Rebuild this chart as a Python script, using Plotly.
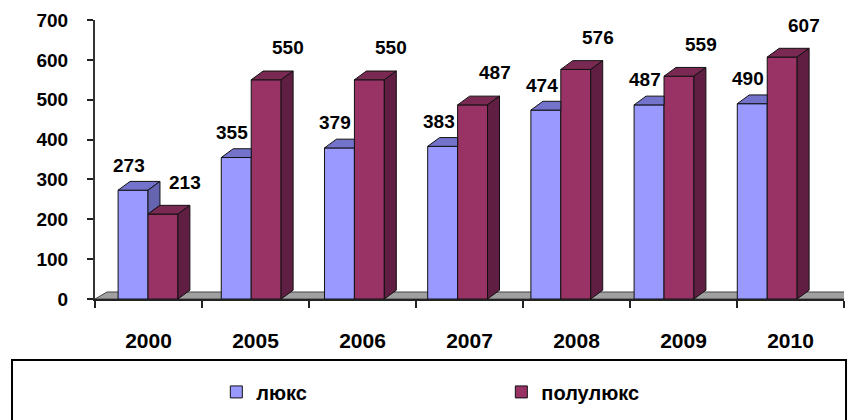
import plotly.graph_objects as go

years = ["2000", "2005", "2006", "2007", "2008", "2009", "2010"]
lux = [273, 355, 379, 383, 474, 487, 490]
semi = [213, 550, 550, 487, 576, 559, 607]
series_names = ["люкс", "полулюкс"]

# styling
C_LUX = "#9999FF"; C_LUX_TOP = "#7373CC"; C_LUX_SIDE = "#6464B0"
C_SEMI = "#993366"; C_SEMI_TOP = "#7A2952"; C_SEMI_SIDE = "#601F42"
FONT = "Liberation Sans, Arial, sans-serif"

BW = 0.29          # bar width in bar-axis units
DX = 0.116         # depth offset (x, bar-axis units)
DY = 22            # depth offset (y, value units)
X2_RANGE = [-0.5136, 6.744]

idx = list(range(len(years)))
x_lux = [i - BW / 2 for i in idx]
x_semi = [i + BW / 2 for i in idx]

fig = go.Figure()

# invisible trace to drive the categorical year axis
fig.add_trace(go.Scatter(x=years, y=[0] * len(years), mode="none",
                         showlegend=False, hoverinfo="skip", xaxis="x", yaxis="y"))

# front faces (real bars)
fig.add_trace(go.Bar(x=x_lux, y=lux, width=BW, name=series_names[0], xaxis="x2",
                     marker=dict(color=C_LUX, line=dict(color="#111", width=1)),
                     hoverinfo="skip"))
fig.add_trace(go.Bar(x=x_semi, y=semi, width=BW, name=series_names[1], xaxis="x2",
                     marker=dict(color=C_SEMI, line=dict(color="#111", width=1)),
                     hoverinfo="skip"))


def poly(xs, ys, color):
    fig.add_trace(go.Scatter(x=xs + [xs[0]], y=ys + [ys[0]], xaxis="x2", yaxis="y",
                             mode="lines", fill="toself", fillcolor=color,
                             line=dict(color="#111", width=1),
                             showlegend=False, hoverinfo="skip"))


for i in idx:
    v1, v2 = lux[i], semi[i]
    xl = i - BW
    xm = i
    xr = i + BW
    if v1 >= v2:
        poly([xl, xl + DX, xm + DX, xm], [v1, v1 + DY, v1 + DY, v1], C_LUX_TOP)
        poly([xm, xm + DX, xm + DX, xm], [v2, v2 + DY, v1 + DY, v1], C_LUX_SIDE)
    else:
        poly([xl, xl + DX, xm, xm], [v1, v1 + DY, v1 + DY, v1], C_LUX_TOP)
    poly([xm, xm + DX, xr + DX, xr], [v2, v2 + DY, v2 + DY, v2], C_SEMI_TOP)
    poly([xr, xr + DX, xr + DX, xr], [0, DY, v2 + DY, v2], C_SEMI_SIDE)

# data labels
annotations = []
for i in idx:
    annotations.append(dict(x=x_lux[i], y=lux[i], xref="x2", yref="y", text=str(lux[i]),
                            showarrow=False, xshift=-4, yshift=25,
                            font=dict(family=FONT, size=19, color="#000", weight="bold")))
    annotations.append(dict(x=x_semi[i], y=semi[i], xref="x2", yref="y", text=str(semi[i]),
                            showarrow=False, xshift=22, yshift=32,
                            font=dict(family=FONT, size=19, color="#000", weight="bold")))

shapes = [
    # floor
    dict(type="path", xref="x2", yref="y", layer="below",
         path=f"M {X2_RANGE[0]},0 L {X2_RANGE[0] + DX},{DY * 0.8} L {X2_RANGE[1] + DX},{DY * 0.8} L {X2_RANGE[1]},0 Z",
         fillcolor="#A0A0A0", line=dict(color="#444", width=1)),
    # legend frame
    dict(type="rect", xref="paper", yref="paper", x0=-0.1108, x1=1.0027, y0=-0.46, y1=-0.2186,
         line=dict(color="#000", width=2), fillcolor="rgba(0,0,0,0)"),
]

fig.update_layout(
    width=848, height=420,
    margin=dict(l=95, r=4, t=20, b=121),
    paper_bgcolor="white", plot_bgcolor="white",
    barmode="overlay",
    showlegend=True,
    legend=dict(orientation="h", x=0.162, xanchor="left", y=-0.333, yanchor="middle",
                entrywidth=240, bgcolor="rgba(0,0,0,0)",
                font=dict(family=FONT, size=20, color="#000", weight="bold")),
    xaxis=dict(type="category", categoryorder="array", categoryarray=years,
               range=[-0.5, 6.5], tickson="boundaries", ticks="outside", ticklen=7,
               tickwidth=2, tickcolor="#222", showline=True, linecolor="#222", linewidth=2,
               showgrid=False, zeroline=False, ticklabelstandoff=22,
               tickfont=dict(family=FONT, size=21, color="#000", weight="bold")),
    xaxis2=dict(overlaying="x", anchor="y", range=X2_RANGE, visible=False,
                showgrid=False, zeroline=False),
    yaxis=dict(range=[0, 700], dtick=100, ticks="outside", ticklen=6, tickwidth=2,
               tickcolor="#222", showline=True, linecolor="#333", linewidth=2,
               showgrid=False, zeroline=False, ticklabelstandoff=15,
               tickfont=dict(family=FONT, size=19, color="#000", weight="bold")),
    annotations=annotations,
    shapes=shapes,
)

fig.write_html("out.html")
